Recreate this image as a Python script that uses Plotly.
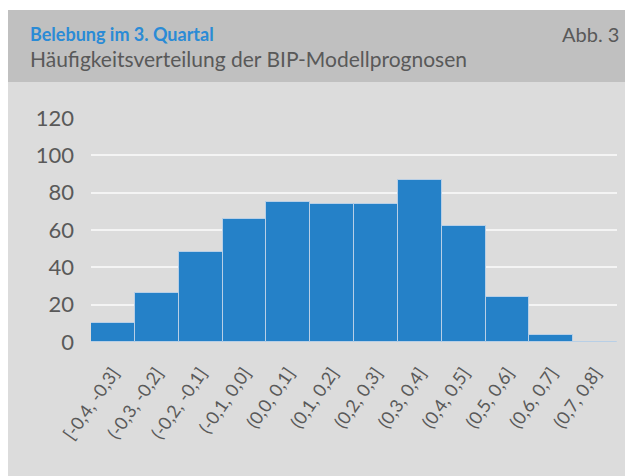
import plotly.graph_objects as go

categories = ["[-0,4, -0,3]", "(-0,3, -0,2]", "(-0,2, -0,1]", "(-0,1, 0,0]", "(0,0, 0,1]",
              "(0,1, 0,2]", "(0,2, 0,3]", "(0,3, 0,4]", "(0,4, 0,5]", "(0,5, 0,6]",
              "(0,6, 0,7]", "(0,7, 0,8]"]
counts = [10, 26, 48, 66, 75, 74, 74, 87, 62, 24, 4, 0]
y_ticks = [0, 20, 40, 60, 80, 100, 120]

title = "Belebung im 3. Quartal"
subtitle = "Häufigkeitsverteilung der BIP-Modellprognosen"
label = "Abb. 3"

OFF = 8  # browser body margin
W, H = 633 - OFF, 476 - OFF
L, R, T, B = 91 - OFF, 16, 118 - OFF, 134
pw, ph = W - L - R, H - T - B

def px(x):
    return (x - OFF - L) / pw

def py(y):
    return (H - B - (y - OFF)) / ph

FONT = "Lato"
GRAY = "#595959"

fig = go.Figure(go.Bar(
    x=categories, y=counts,
    marker=dict(color="#2581c8", line=dict(color="#b8cfe6", width=1)),
))

fig.update_layout(
    width=W, height=H,
    margin=dict(l=L, r=R, t=T, b=B),
    paper_bgcolor="white",
    plot_bgcolor="rgba(0,0,0,0)",
    bargap=0,
    showlegend=False,
    font=dict(family=FONT, color=GRAY),
    xaxis=dict(range=[-0.5, 11.5], tickangle=-55, tickfont=dict(size=18, color=GRAY),
               showgrid=False, zeroline=False, showline=False, ticks="",
               ticklabelstandoff=16),
    yaxis=dict(range=[0, 120], tickvals=y_ticks, tickfont=dict(size=22, color=GRAY),
               showgrid=True, gridcolor="#f4f4f4", gridwidth=1.5, zeroline=False,
               showline=False, ticks="", ticklabelstandoff=16),
    shapes=[
        dict(type="rect", xref="paper", yref="paper", x0=px(8), x1=px(640), y0=py(480), y1=py(82),
             fillcolor="#dcdcdc", line=dict(width=0), layer="below"),
        dict(type="rect", xref="paper", yref="paper", x0=px(8), x1=px(640), y0=py(82), y1=py(10),
             fillcolor="#c0c0c0", line=dict(width=0), layer="below"),
    ],
    annotations=[
        dict(text=f"<b>{title}</b>", xref="paper", yref="paper", x=px(28), y=py(34),
             xanchor="left", yanchor="middle", showarrow=False,
             font=dict(family=FONT, size=18, color="#2a8bd6")),
        dict(text=subtitle, xref="paper", yref="paper", x=px(28), y=py(59),
             xanchor="left", yanchor="middle", showarrow=False,
             font=dict(family=FONT, size=21, color=GRAY)),
        dict(text=label, xref="paper", yref="paper", x=px(621), y=py(34),
             xanchor="right", yanchor="middle", showarrow=False,
             font=dict(family=FONT, size=20, color=GRAY)),
    ],
)

fig.write_html("out.html")
